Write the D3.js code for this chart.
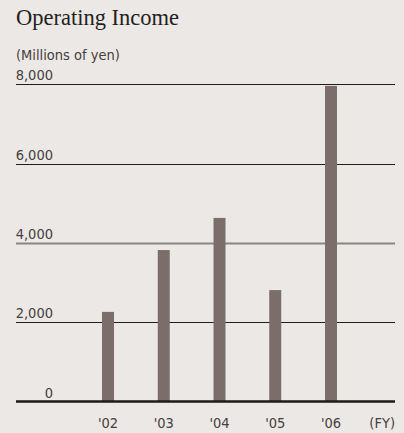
<!DOCTYPE html>
<html>
<head>
<meta charset="utf-8">
<script src="https://cdn.jsdelivr.net/npm/d3@7/dist/d3.min.js"></script>
<style>
  html, body { margin: 0; padding: 0; background: #ece8e5; }
  svg { display: block; }
  .num { font-family: "DejaVu Sans Condensed", "DejaVu Sans", sans-serif; font-size: 14.5px; fill: #45403d; }
</style>
</head>
<body>
<script>
// Operating income by fiscal year (millions of yen)
const years = ["'02", "'03", "'04", "'05", "'06"];
const income = [2260, 3820, 4630, 2810, 7960];
const yTicks = [0, 2000, 4000, 6000, 8000];

const W = 404, H = 433;
const left = 16, right = 395;

const svg = d3.select("body").append("svg")
  .attr("width", W).attr("height", H);

const y = d3.scaleLinear().domain([0, 8000]).range([401.5, 84.3]);
const x = d3.scalePoint().domain(years).range([108, 331]);
const barW = 12;

// title and unit
svg.append("text")
  .attr("x", left).attr("y", 25)
  .attr("font-family", "'Liberation Serif', 'Times New Roman', serif")
  .attr("font-size", 22.5).attr("fill", "#231f1d")
  .text("Operating Income");

svg.append("text").attr("class", "num")
  .attr("x", left).attr("y", 60)
  .text("(Millions of yen)");

// gridlines with their labels sitting on top
const fmt = d3.format(",");
yTicks.filter(t => t > 0).forEach(t => {
  const yy = Math.round(y(t)) + 0.5;
  svg.append("line")
    .attr("x1", left).attr("x2", right)
    .attr("y1", yy).attr("y2", yy)
    .attr("stroke", t === 4000 ? "#8a8583" : "#221e1c")
    .attr("stroke-width", t === 4000 ? 2 : 1.2);
});
yTicks.forEach(t => {
  svg.append("text").attr("class", "num")
    .attr("x", 53).attr("y", y(t) - 4)
    .attr("text-anchor", "end")
    .text(fmt(t));
});

// bars
svg.selectAll("rect.bar").data(income).enter().append("rect")
  .attr("class", "bar")
  .attr("x", (d, i) => x(years[i]) - barW / 2)
  .attr("width", barW)
  .attr("y", d => y(d))
  .attr("height", d => y(0) - y(d))
  .attr("fill", "#7b6e6a");

// baseline
svg.append("line")
  .attr("x1", left).attr("x2", right)
  .attr("y1", y(0)).attr("y2", y(0))
  .attr("stroke", "#1e1a18").attr("stroke-width", 2.5);

// category labels
svg.selectAll("text.cat").data(years).enter().append("text")
  .attr("class", "num cat")
  .attr("x", d => x(d)).attr("y", 428)
  .attr("text-anchor", "middle")
  .text(d => d);

svg.append("text").attr("class", "num")
  .attr("x", right).attr("y", 428)
  .attr("text-anchor", "end")
  .text("(FY)");
</script>
</body>
</html>
